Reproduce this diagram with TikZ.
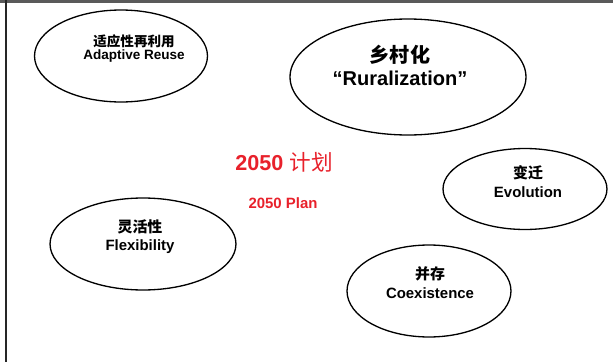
\documentclass[tikz,border=0pt]{standalone}
\usepackage{fontspec}
\setmainfont{Liberation Sans}
\newfontfamily\cjk{Noto Sans CJK SC}
\usetikzlibrary{shapes.geometric}
\definecolor{planred}{HTML}{E8212B}
\definecolor{framegray}{HTML}{5A5A5A}

\tikzset{
  idea/.style={ellipse, draw, line width=0.75pt, inner sep=0pt},
  tag/.style={align=center, inner sep=0pt,
    font=\fontsize{8.5}{10.5}\selectfont\bfseries},
}

\begin{document}
\begin{tikzpicture}[x=0.02cm, y=-0.02cm]
      \useasboundingbox (0,0) rectangle (613,362);
      % frame
      \fill[framegray] (0,0) rectangle (613,3);
      \fill[black!85] (5,0) rectangle (7,362);

      % ideas
      \node[idea, minimum width=3.46cm, minimum height=1.84cm] (reuse) at (121,56) {};
      \node[idea, minimum width=4.72cm, minimum height=2.32cm] (rural) at (408,77) {};
      \node[idea, minimum width=3.28cm, minimum height=1.62cm] (evol)  at (525,189) {};
      \node[idea, minimum width=3.72cm, minimum height=1.84cm] (flex)  at (143,244) {};
      \node[idea, minimum width=3.28cm, minimum height=1.84cm] (coex)  at (429,291) {};

      \node[tag, font=\fontsize{7.7}{7.4}\selectfont\bfseries] (reuseT) at (134,49)
        {{\cjk 适应性再利用}\\Adaptive Reuse};
      \node[tag, font=\fontsize{11.4}{13}\selectfont\bfseries] (ruralT) at (400,65)
        {{\cjk 乡村化}\\“Ruralization”};
      \node[tag] (evolT) at (528,181.5) {{\cjk 变迁}\\Evolution};
      \node[tag] (flexT) at (140,236.5) {{\cjk 灵活性}\\Flexibility};
      \node[tag] (coexT) at (430,282.5) {{\cjk 并存}\\Coexistence};

      % plan
      \node[tag, text=planred, font=\fontsize{12.3}{14}\selectfont\bfseries] (plan) at (284,162)
        {2050 {\cjk\mdseries 计划}};
      \node[tag, text=planred] (planE) at (283,203) {2050 Plan};
\end{tikzpicture}
\end{document}
